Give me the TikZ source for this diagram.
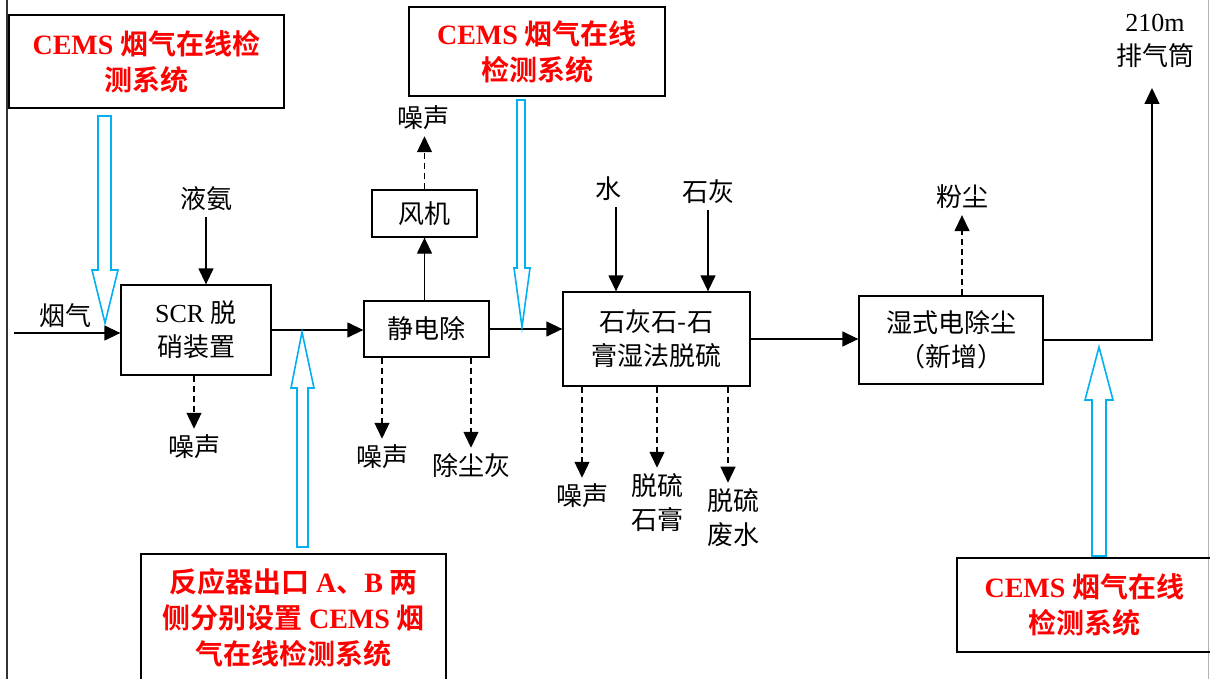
\documentclass[tikz,border=0pt]{standalone}
\usepackage{fontspec}
\setmainfont{Liberation Serif}
\newfontfamily\cjk{Noto Sans CJK SC}[BoldFont={Noto Sans CJK SC Bold}]
\newcommand\zh[1]{{\cjk #1}}
\newcommand\fblk{\fontsize{26}{34}\selectfont}
\newcommand\fred{\fontsize{28}{36}\selectfont\bfseries}
\usetikzlibrary{arrows.meta}
\definecolor{cyanb}{HTML}{00B0F0}
\begin{document}
\begin{tikzpicture}[x=1pt,y=-1pt,
  box/.style={draw, line width=1.3pt, inner sep=0pt, align=center, font=\fblk},
  redbox/.style={draw, line width=1.3pt, inner sep=0pt, align=center, text=red, font=\fred},
  lbl/.style={inner sep=6pt, align=center, font=\fblk},
  arr/.style={line width=1.3pt, -{Triangle[length=16pt,width=15pt]}},
  darr/.style={arr, dash pattern=on 6pt off 4pt},
  hollow/.style={draw=cyanb, line width=1.6pt, fill=white},
]
\useasboundingbox (0,0) rectangle (1210,679);
% page borders
\draw[line width=2pt, black!80] (7,-5) -- (7,690);
\draw[line width=1pt, black!30] (1208,-5) -- (1208,690);

% red CEMS boxes
\node[redbox, minimum width=275, minimum height=93] (cems1) at (146.5,61.5) {CEMS \zh{烟气在线检}\\\zh{测系统}};
\node[redbox, minimum width=256, minimum height=89] (cems2) at (537,51.5) {CEMS \zh{烟气在线}\\\zh{检测系统}};
\node[redbox, minimum width=305, minimum height=128] (cems3) at (293.5,618) {\zh{反应器出口} A\zh{、}B \zh{两}\\\zh{侧分别设置} CEMS \zh{烟}\\\zh{气在线检测系统}};
\node[redbox, minimum width=255, minimum height=94] (cems4) at (1084.5,605) {CEMS \zh{烟气在线}\\\zh{检测系统}};

% process boxes
\node[box, minimum width=150, minimum height=90] (scr) at (196,330) {SCR \zh{脱}\\\zh{硝装置}};
\node[box, minimum width=125, minimum height=56] (esp) at (426.5,329) {\zh{静电除}};
\node[box, minimum width=105, minimum height=47] (fan) at (424.5,213.5) {\zh{风机}};
\node[box, minimum width=187, minimum height=94] (fgd) at (656.5,339) {\zh{石灰石-石}\\\zh{膏湿法脱硫}};
\node[box, minimum width=184, minimum height=88] (wesp) at (951,340) {\zh{湿式电除尘}\\\zh{（新增）}};

% labels
\node[lbl] (yanqi) at (65,316) {\zh{烟气}};
\coordinate (flue) at (14,333);
\node[lbl] (nh3) at (206,199) {\zh{液氨}};
\node[lbl] (n1) at (194,447) {\zh{噪声}};
\node[lbl] (n2) at (423,118) {\zh{噪声}};
\node[lbl] (n3) at (382,457) {\zh{噪声}};
\node[lbl] (n4) at (471,466) {\zh{除尘灰}};
\node[lbl] (water) at (608,189) {\zh{水}};
\node[lbl] (lime) at (708,192) {\zh{石灰}};
\node[lbl] (n5) at (582,496) {\zh{噪声}};
\node[lbl] (gyp) at (657,503) {\zh{脱硫}\\\zh{石膏}};
\node[lbl] (ww) at (733,518) {\zh{脱硫}\\\zh{废水}};
\node[lbl] (dust) at (962,197) {\zh{粉尘}};
\node[lbl] (stack) at (1155,41) {210m\\\zh{排气筒}};
\coordinate (stacktop) at (1152,88);

% connectors
\draw[arr] (flue) -- (flue -| scr.west);
\draw[arr] (nh3.south) -- (nh3.south |- scr.north);
\draw[darr] (scr.south -| n1.north) -- (n1.north);
\draw[arr] (scr.east) -- (scr.east -| esp.west);
\draw[arr] (fan.south |- esp.north) -- (fan.south);
\draw[darr] (fan.north) -- (fan.north |- n2.south);
\draw[darr] (esp.south -| n3.north) -- (n3.north);
\draw[darr] (esp.south -| n4.north) -- (n4.north);
\draw[arr] (esp.east) -- (esp.east -| fgd.west);
\draw[arr] ([xshift=8]water.south) -- ([xshift=8]water.south |- fgd.north);
\draw[arr] (lime.south) -- (lime.south |- fgd.north);
\draw[darr] (fgd.south -| n5.north) -- (n5.north);
\draw[darr] (fgd.south -| gyp.north) -- (gyp.north);
\draw[darr] ([xshift=-5]fgd.south -| ww.north) -- ([xshift=-5]ww.north);
\draw[arr] (fgd.east) -- (fgd.east -| wesp.west);
\draw[darr] (wesp.north -| dust.south) -- (dust.south);
\draw[arr] (wesp.east) -| (stacktop);

% hollow blue CEMS arrows
\draw[hollow] (98,116) -- (111,116) -- (111,270) -- (118,270) -- (105,323) -- (92,270) -- (98,270) -- cycle;
\draw[hollow] (297,547) -- (308,547) -- (308,388) -- (314,388) -- (302,332) -- (291,388) -- (297,388) -- cycle;
\draw[hollow] (517,100) -- (525,100) -- (525,268) -- (530,268) -- (522,327) -- (514,268) -- (517,268) -- cycle;
\draw[hollow] (1092,556) -- (1106,556) -- (1106,400) -- (1113,400) -- (1099,347) -- (1085,400) -- (1092,400) -- cycle;
\end{tikzpicture}
\end{document}
